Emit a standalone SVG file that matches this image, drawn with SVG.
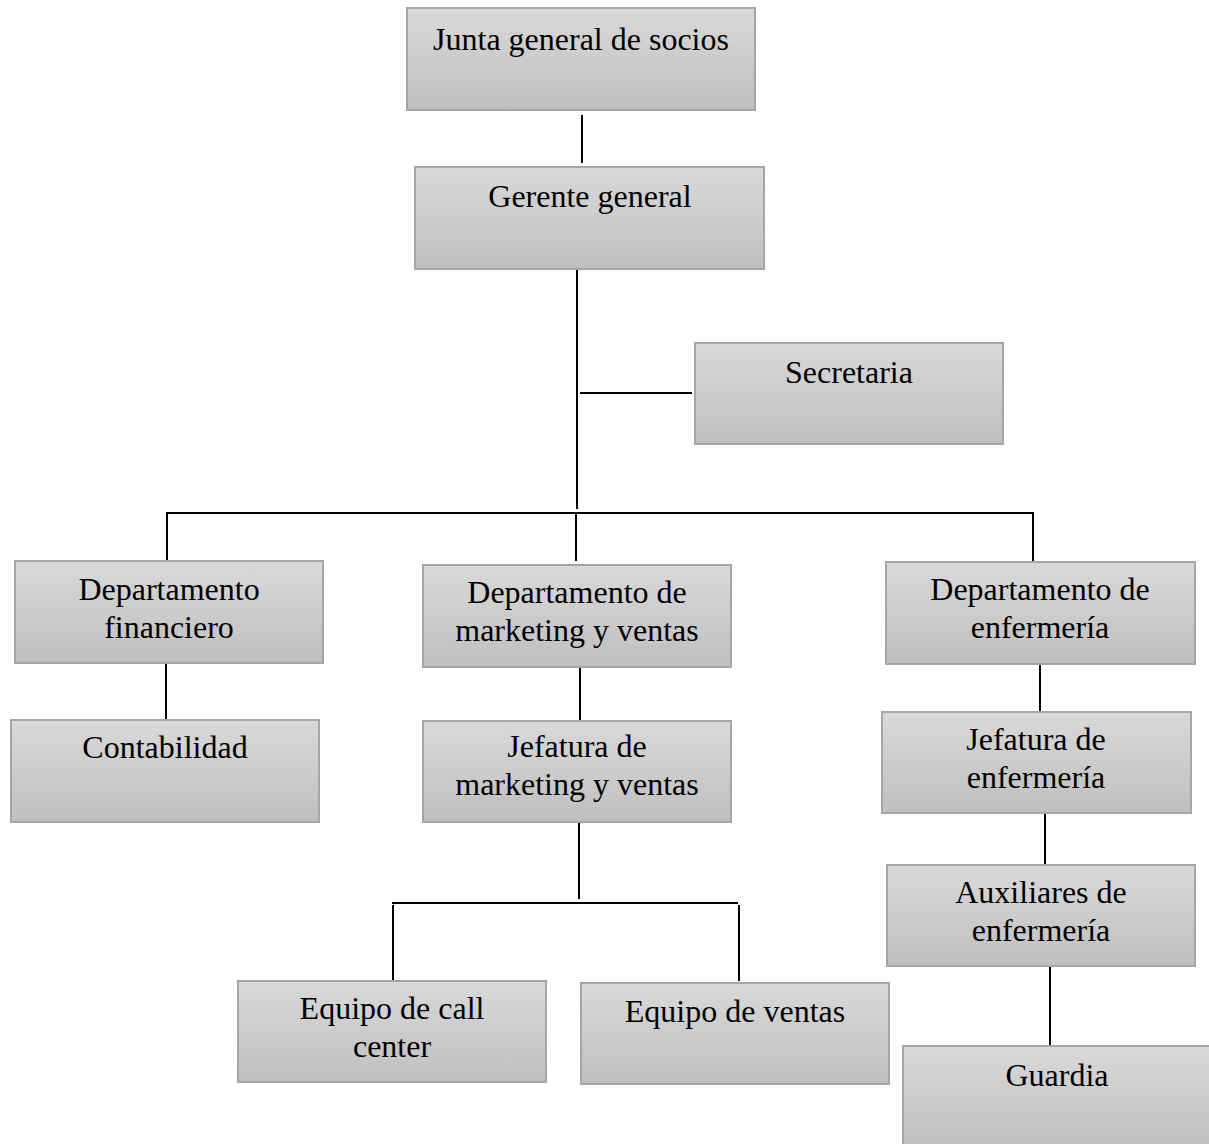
<svg xmlns="http://www.w3.org/2000/svg" width="1209" height="1144" viewBox="0 0 1209 1144">
<defs>
<linearGradient id="g" x1="0" y1="0" x2="0" y2="1">
<stop offset="0" stop-color="#d9d9d9"/>
<stop offset="1" stop-color="#bfbfbf"/>
</linearGradient>
</defs>
<style>
.box{fill:url(#g);stroke:#a6a6a6;stroke-width:2}
.t{font-family:"Liberation Serif","Times New Roman",serif;font-size:32px;fill:#000;text-anchor:middle}
.c{stroke:#000;stroke-width:2;fill:none}
</style>
<rect width="1209" height="1144" fill="#fff"/>
<g id="connectors">
<line class="c" x1="582" y1="115" x2="582" y2="163"/>
<line class="c" x1="577" y1="270" x2="577" y2="509"/>
<line class="c" x1="580" y1="393" x2="692" y2="393"/>
<line class="c" x1="167" y1="513" x2="1034" y2="513"/>
<line class="c" x1="167" y1="512" x2="167" y2="560"/>
<line class="c" x1="576" y1="513" x2="576" y2="561"/>
<line class="c" x1="1033" y1="512" x2="1033" y2="561"/>
<line class="c" x1="166" y1="664" x2="166" y2="719"/>
<line class="c" x1="580" y1="668" x2="580" y2="720"/>
<line class="c" x1="579" y1="823" x2="579" y2="899"/>
<line class="c" x1="392" y1="903" x2="738" y2="903"/>
<line class="c" x1="393" y1="905" x2="393" y2="982"/>
<line class="c" x1="739" y1="905" x2="739" y2="981"/>
<line class="c" x1="1040" y1="665" x2="1040" y2="711"/>
<line class="c" x1="1045" y1="814" x2="1045" y2="864"/>
<line class="c" x1="1050" y1="967" x2="1050" y2="1045"/>
</g>
<g id="n1"><rect class="box" x="407" y="8" width="348" height="102"/><text class="t" x="581" y="50">Junta general de socios</text></g>
<g id="n2"><rect class="box" x="415" y="167" width="349" height="102"/><text class="t" x="590" y="207">Gerente general</text></g>
<g id="n3"><rect class="box" x="695" y="343" width="308" height="101"/><text class="t" x="849" y="383">Secretaria</text></g>
<g id="n4"><rect class="box" x="15" y="561" width="308" height="102"/><text class="t" x="169" y="600">Departamento</text><text class="t" x="169" y="638">financiero</text></g>
<g id="n5"><rect class="box" x="423" y="565" width="308" height="102"/><text class="t" x="577" y="603">Departamento de</text><text class="t" x="577" y="641">marketing y ventas</text></g>
<g id="n6"><rect class="box" x="886" y="562" width="309" height="102"/><text class="t" x="1040" y="600">Departamento de</text><text class="t" x="1040" y="638">enfermería</text></g>
<g id="n7"><rect class="box" x="11" y="720" width="308" height="102"/><text class="t" x="165" y="758">Contabilidad</text></g>
<g id="n8"><rect class="box" x="423" y="721" width="308" height="101"/><text class="t" x="577" y="757">Jefatura de</text><text class="t" x="577" y="795">marketing y ventas</text></g>
<g id="n9"><rect class="box" x="882" y="712" width="309" height="101"/><text class="t" x="1036" y="750">Jefatura de</text><text class="t" x="1036" y="788">enfermería</text></g>
<g id="n10"><rect class="box" x="887" y="865" width="308" height="101"/><text class="t" x="1041" y="903">Auxiliares de</text><text class="t" x="1041" y="941">enfermería</text></g>
<g id="n11"><rect class="box" x="903" y="1046" width="310" height="102"/><text class="t" x="1057" y="1086">Guardia</text></g>
<g id="n12"><rect class="box" x="238" y="981" width="308" height="101"/><text class="t" x="392" y="1019">Equipo de call</text><text class="t" x="392" y="1057">center</text></g>
<g id="n13"><rect class="box" x="581" y="983" width="308" height="101"/><text class="t" x="735" y="1022">Equipo de ventas</text></g>
</svg>
